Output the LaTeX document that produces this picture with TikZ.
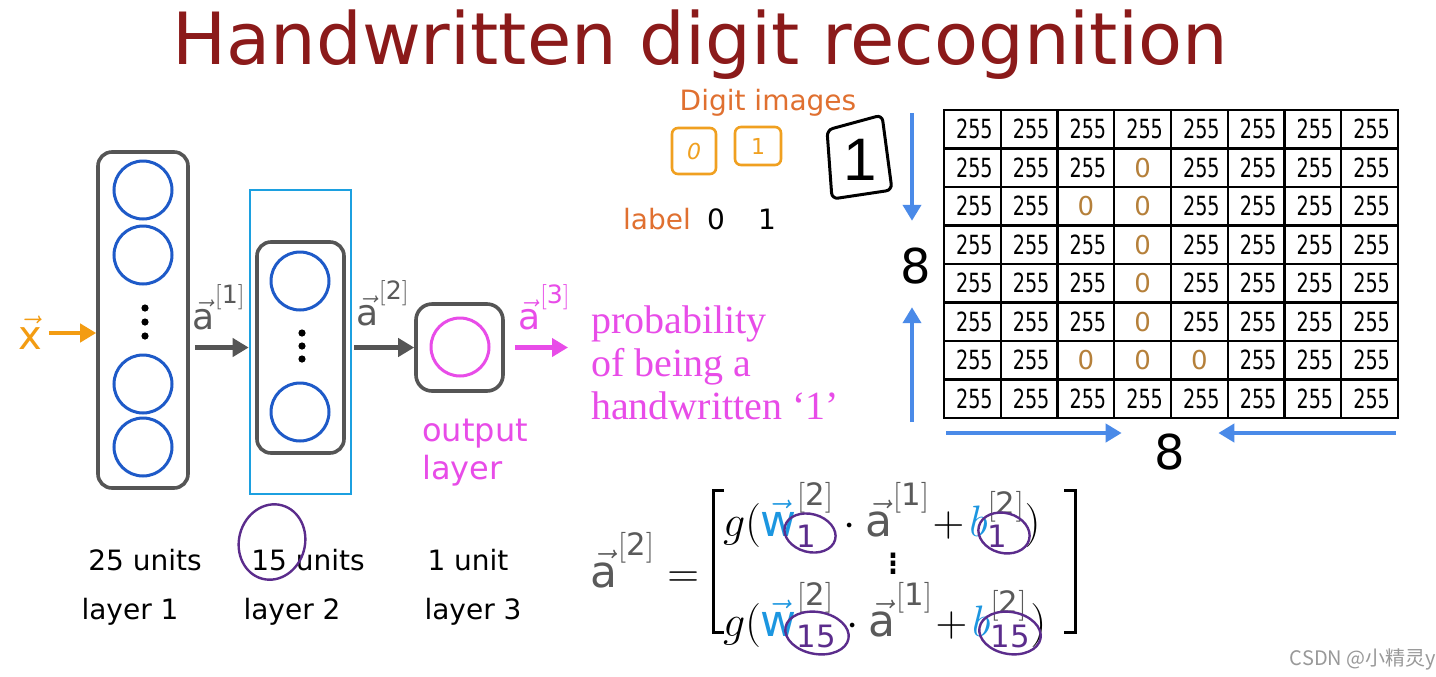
\RequirePackage{fix-cm}
\documentclass[tikz,border=0pt]{standalone}
\usepackage{fontspec}
\setmainfont{DejaVu Sans}
\setsansfont{DejaVu Sans}
\newfontfamily\probfont{Liberation Serif}
\newfontfamily\thinfont{Liberation Sans}
\newfontfamily\cjkfont{Noto Sans CJK SC}
\usetikzlibrary{arrows.meta,positioning,shapes.geometric}

\definecolor{titlered}{RGB}{139,26,26}
\definecolor{boxgray}{RGB}{85,85,85}
\definecolor{agray}{RGB}{90,90,90}
\definecolor{unitblue}{RGB}{30,90,200}
\definecolor{rectblue}{RGB}{28,160,224}
\definecolor{outpink}{RGB}{232,76,232}
\definecolor{inorange}{RGB}{243,156,18}
\definecolor{digorange}{RGB}{224,112,48}
\definecolor{boxorange}{RGB}{240,160,32}
\definecolor{zerobrown}{RGB}{181,128,58}
\definecolor{arrowblue}{RGB}{74,138,232}
\definecolor{wblue}{RGB}{28,150,224}
\definecolor{purp}{RGB}{91,44,140}

\newcommand\va{\vec{\mathsf{a}}}
\newcommand\lay[1]{\mathsf{[#1]}}
\newcommand\wrow[1]{g(\textcolor{wblue}{\vec{\mathsf{w}}}^{\textcolor{agray}{\lay{2}}}_{\textcolor{purp}{\mathsf{#1}}}\cdot\textcolor{agray}{\va^{\lay{1}}}\mkern-3mu+\mkern-2mu\textcolor{wblue}{b}^{\textcolor{agray}{\lay{2}}}_{\textcolor{purp}{\mathsf{#1}}})}

\begin{document}
\begin{tikzpicture}[x=0.5pt, y=-0.5pt,
    layerbox/.style={draw=boxgray, line width=1.8pt, rounded corners=7pt},
    unit/.style={circle, draw=unitblue, line width=1.5pt, minimum size=29pt, inner sep=0pt},
    flow/.style={line width=2.5pt, -{Triangle[length=8pt,width=9pt]}},
    sizearrow/.style={draw=arrowblue, line width=2pt, -{Triangle[length=8pt,width=9pt]}},
    caption/.style={font=\fontsize{14}{16}\selectfont},
    veclabel/.style={text=agray, font=\fontsize{18}{20}\selectfont},
    cell/.style={font=\fontsize{12}{14}\selectfont},
    zero/.style={text=zerobrown, font=\fontsize{13}{14}\selectfont},
    eight/.style={font=\fontsize{24}{26}\selectfont},
    formula/.style={font=\fontsize{22}{24}\selectfont},
    ring/.style={draw=purp, line width=1.2pt}]
    \useasboundingbox (0,0) rectangle (1436,676);
    \fill[white] (0,0) rectangle (1436,676);

    % Title
    \node[text=titlered, font=\fontsize{36}{40}\selectfont] (title) at (700,45) {Handwritten digit recognition};

    % Layer 1
    \node[layerbox, minimum width=45pt, minimum height=168pt] (l1) at (143,320) {};
    \node[unit] (n1a) at (143,190) {};
    \node[unit] (n1b) at (143,255) {};
    \node[unit] (n1c) at (143,384) {};
    \node[unit] (n1d) at (143,447) {};
    \foreach \dy in {-14,0,14}
        \fill (145,322+\dy) circle (1.8pt);

    % Layer 2
    \node[draw=rectblue, line width=1.3pt, minimum width=50.5pt, minimum height=152pt, inner sep=0pt] (l2frame) at (300.5,342) {};
    \node[layerbox, minimum width=43.5pt, minimum height=105.5pt] (l2) at (300.5,347.5) {};
    \node[unit] (n2a) at (300,281) {};
    \node[unit] (n2b) at (300,412) {};
    \foreach \dy in {-13,0,13}
        \fill (302,346+\dy) circle (1.8pt);

    % Output layer
    \node[layerbox, minimum width=43.5pt, minimum height=43.5pt, rounded corners=8pt] (out) at (459.5,347.5) {};
    \node[unit, draw=outpink] (n3) at (460,347) {};
    \node[anchor=north west, inner sep=0pt, text=outpink, align=left, font=\fontsize{16}{19}\selectfont] (outlbl) at (422,419) {output\\layer};

    % Input and activations
    \node[text=inorange, font=\fontsize{20}{20}\selectfont] (xin) at (30,333) {$\vec{\mathsf{x}}$};
    \draw[flow, draw=inorange, line width=2pt] (xin.east) -- (xin.east -| l1.west);
    \draw[flow, draw=boxgray, shorten <=2.5pt] (l1.east |- out) -- node[veclabel, above=4pt] (a1lbl) {$\va^{\lay{1}}$} (l2frame.west |- out);
    \draw[flow, draw=boxgray, shorten <=1pt] (l2frame.east |- out) -- node[veclabel, above=6pt] (a2lbl) {$\va^{\lay{2}}$} (out.west);
    \node[anchor=west, text=outpink, align=left, font=\probfont\fontsize{20}{21.5}\selectfont] (prob) at (584,363) {probability\\of being a\\handwritten ‘1’};
    \draw[flow, draw=outpink, shorten <=5pt, shorten >=8pt] (out.east) -- node[veclabel, text=outpink, above=4pt] (a3lbl) {$\va^{\lay{3}}$} (prob.west |- out);

    % Captions
    \node[caption] (units1) at (145,560) {25 units};
    \node[caption] (units2) at (308,560) {15 units};
    \node[caption] (units3) at (468,560) {1 unit};
    \node[caption] (name1) at (130,612) {layer 1};
    \node[caption] (name2) at (292,612) {layer 2};
    \node[caption] (name3) at (473,612) {layer 3};
    \draw[ring, rotate around={-15:(272,542)}] (272,542) ellipse (33 and 38);

    % Digit images
    \node[caption, text=digorange] (digits) at (768,103) {Digit images};
    \node[draw=boxorange, line width=1.3pt, rounded corners=3pt, minimum width=22pt, minimum height=23pt, text=boxorange, font=\fontsize{11}{12}\selectfont\itshape] (box0) at (694,151) {0};
    \node[draw=boxorange, line width=1.3pt, rounded corners=3pt, minimum width=23pt, minimum height=19pt, text=boxorange, font=\fontsize{11}{12}\selectfont] (box1) at (758,146) {1};
    \node[font=\thinfont\fontsize{30}{30}\selectfont] (digit1) at (860,160) {1};
    \draw[line width=1.5pt, rounded corners=3pt] (827,130) -- (882,115) -- (892,190) -- (832,199) -- cycle;
    \node[caption, text=digorange] (labeltxt) at (657,219) {label};
    \node[caption] (lab0) at (716,219) {0};
    \node[caption] (lab1) at (767,219) {1};

    % Pixel grid
    \draw[line width=1.2pt] (944,110) rectangle (1398,418);
    \foreach \i in {1,...,7} {
        \draw[line width=1.2pt] ({944+56.75*\i},110) -- ({944+56.75*\i},418);
        \draw[line width=1.2pt] (944,{110+38.5*\i}) -- (1398,{110+38.5*\i});
    }
    \foreach \c in {1,...,8} {
        \foreach \r in {1,...,8} {
            \pgfmathtruncatemacro\iszero{(\c==4 && \r>=2 && \r<=7) || (\c==3 && (\r==3 || \r==7)) || (\c==5 && \r==7)}
            \ifnum\iszero=1
                \node[zero] (c\r\c) at ({944+56.75*(\c-0.5)},{110+38.5*(\r-0.5)}) {0};
            \else
                \node[cell] (c\r\c) at ({944+56.75*(\c-0.5)+2},{110+38.5*(\r-0.5)}) {\scalebox{0.8}[1.1]{255}};
            \fi
        }
    }

    % Size arrows
    \node[eight] (eightv) at (916,266) {8};
    \node[eight] (eighth) at (1170,452) {8};
    \coordinate (vtop) at (912,113);
    \coordinate (vbot) at (912,422);
    \coordinate (hleft) at (946,433);
    \coordinate (hright) at (1396,433);
    \draw[sizearrow, shorten >=10pt] (vtop) -- (vtop |- eightv.north);
    \draw[sizearrow, shorten >=8pt] (vbot) -- (vbot |- eightv.south);
    \draw[sizearrow, shorten >=13pt] (hleft) -- (hleft -| eighth.west);
    \draw[sizearrow, shorten >=13pt] (hright) -- (hright -| eighth.east);

    % Formula for a2
    \node[formula, text=agray] (lhs) at (645,560) {$\va^{\lay{2}}\;\textcolor{black}{=}$};
    \draw[line width=1.5pt] (724,490) -- (713,490) -- (713,632) -- (724,632);
    \draw[line width=1.5pt] (1064,490) -- (1075,490) -- (1075,632) -- (1064,632);
    \node[formula, anchor=west] (row1) at (716,515) {$\wrow{1}$};
    \node[formula] (rowdots) at (893,558) {$\vdots$};
    \node[formula, anchor=west] (row3) at (716,615) {$\wrow{15}$};
    \draw[ring, rotate around={-15:(810,533)}] (810,533) ellipse (26 and 19);
    \draw[ring, rotate around={-15:(1004,533)}] (1004,533) ellipse (26 and 20);
    \draw[ring, rotate around={-10:(817,633)}] (817,633) ellipse (32 and 21);
    \draw[ring, rotate around={-10:(1010,633)}] (1010,633) ellipse (31 and 21);

    % Watermark
    \node[text=gray!80, font=\cjkfont\fontsize{10}{12}\selectfont] (mark) at (1363,659) {CSDN @小精灵y};
\end{tikzpicture}
\end{document}
